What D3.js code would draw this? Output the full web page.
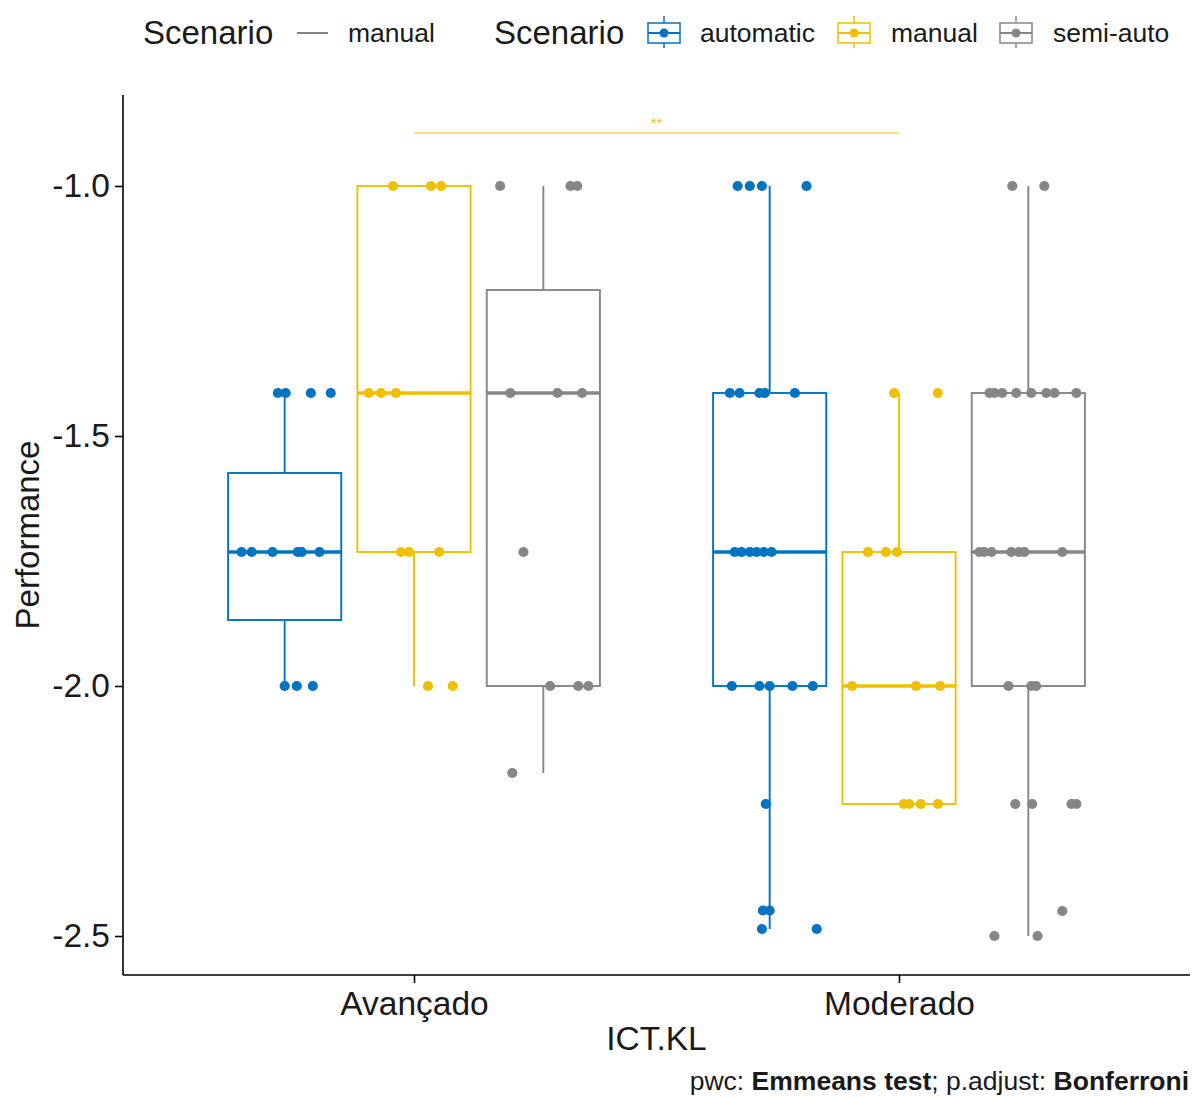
<!DOCTYPE html>
<html>
<head>
<meta charset="utf-8">
<script src="https://cdn.jsdelivr.net/npm/d3@7"></script>
<style>
  html, body { margin: 0; padding: 0; background: #fff; }
  svg { display: block; font-family: "Liberation Sans", Arial, sans-serif; }
</style>
</head>
<body>
<svg id="chart" width="1193" height="1097"></svg>
<script>
// ---- data ----
const categories = ["Avançado", "Moderado"];
const scenarios = ["automatic", "manual", "semi-auto"];
const palette = ["#0073C2", "#EFC000", "#868686"];
const yTicks = [-1.0, -1.5, -2.0, -2.5];

// Box statistics, indexed [category][scenario]
const whiskerLow  = [[-2.000, -2.000, -2.174], [-2.486, -2.236, -2.500]];
const quartile1   = [[-1.868, -1.732, -2.000], [-2.000, -2.236, -2.000]];
const medians     = [[-1.732, -1.414, -1.414], [-1.732, -2.000, -1.732]];
const quartile3   = [[-1.574, -1.000, -1.208], [-1.414, -1.732, -1.414]];
const whiskerHigh = [[-1.414, -1.000, -1.000], [-1.000, -1.414, -1.000]];

// Individual observations: [value, horizontal jitter in x-axis units]
const ptsAvAutomatic = [
  [-1.414, -0.014], [-1.414, 0.002], [-1.414, 0.054], [-1.414, 0.095],
  [-1.732, -0.089], [-1.732, -0.068], [-1.732, -0.025], [-1.732, 0.027], [-1.732, 0.035], [-1.732, 0.072],
  [-2.000, 0.000], [-2.000, 0.025], [-2.000, 0.058]
];
const ptsAvManual = [
  [-1.000, -0.043], [-1.000, 0.035], [-1.000, 0.056],
  [-1.414, -0.093], [-1.414, -0.068], [-1.414, -0.037],
  [-1.732, -0.027], [-1.732, -0.010], [-1.732, 0.052],
  [-2.000, 0.029], [-2.000, 0.080]
];
const ptsAvSemiAuto = [
  [-1.000, -0.089], [-1.000, 0.056], [-1.000, 0.070],
  [-1.414, -0.068], [-1.414, 0.029], [-1.414, 0.080],
  [-1.732, -0.041],
  [-2.000, 0.014], [-2.000, 0.072], [-2.000, 0.093],
  [-2.174, -0.064]
];
const ptsModAutomatic = [
  [-1.000, -0.066], [-1.000, -0.041], [-1.000, -0.016], [-1.000, 0.076],
  [-1.414, -0.082], [-1.414, -0.062], [-1.414, -0.021], [-1.414, -0.010], [-1.414, 0.052],
  [-1.732, -0.072], [-1.732, -0.058], [-1.732, -0.041], [-1.732, -0.027], [-1.732, -0.012], [-1.732, 0.004],
  [-2.000, -0.078], [-2.000, -0.021], [-2.000, 0.000], [-2.000, 0.047], [-2.000, 0.089],
  [-2.236, -0.008],
  [-2.449, -0.014], [-2.449, 0.000],
  [-2.486, -0.016], [-2.486, 0.097]
];
const ptsModManual = [
  [-1.414, -0.010], [-1.414, 0.080],
  [-1.732, -0.064], [-1.732, -0.027], [-1.732, -0.004],
  [-2.000, -0.097], [-2.000, 0.035], [-2.000, 0.085],
  [-2.236, 0.010], [-2.236, 0.021], [-2.236, 0.045], [-2.236, 0.080]
];
const ptsModSemiAuto = [
  [-1.000, -0.033], [-1.000, 0.033],
  [-1.414, -0.080], [-1.414, -0.070], [-1.414, -0.054], [-1.414, -0.025], [-1.414, 0.006], [-1.414, 0.037], [-1.414, 0.054], [-1.414, 0.099],
  [-1.732, -0.101], [-1.732, -0.091], [-1.732, -0.076], [-1.732, -0.035], [-1.732, -0.019], [-1.732, -0.008], [-1.732, 0.070],
  [-2.000, -0.041], [-2.000, 0.006], [-2.000, 0.016],
  [-2.236, -0.027], [-2.236, 0.008], [-2.236, 0.089], [-2.236, 0.099],
  [-2.450, 0.070],
  [-2.500, -0.070], [-2.500, 0.019]
];
const observations = [
  [ptsAvAutomatic, ptsAvManual, ptsAvSemiAuto],
  [ptsModAutomatic, ptsModManual, ptsModSemiAuto]
];

// Pairwise comparison bracket (manual: Avançado vs Moderado)
const bracketY = -0.894;
const bracketLabel = "**";

// ---- layout ----
const svg = d3.select("#chart");
const panel = { left: 123, right: 1190, top: 95, bottom: 975 };
const dodgeWidth = 0.8, boxWidth = 0.7;
const textColor = "#1a1a1a";

// Discrete x positions 1..n with ggplot-style 0.6 expansion
const x = d3.scaleLinear()
  .domain([0.4, categories.length + 0.6])
  .range([panel.left, panel.right]);
const y = d3.scaleLinear()
  .domain([-2.578, -0.818])
  .range([panel.bottom, panel.top]);

const slot = dodgeWidth / scenarios.length;
const halfBox = boxWidth / scenarios.length / 2;
const centerOf = (ci, si) => (ci + 1) + (si - (scenarios.length - 1) / 2) * slot;

// ---- boxes ----
const groups = [];
categories.forEach((c, ci) => scenarios.forEach((s, si) => groups.push({ ci, si })));

const gBoxes = svg.append("g");
groups.forEach(({ ci, si }) => {
  const cx = centerOf(ci, si);
  const col = palette[si];
  const g = gBoxes.append("g");
  // whiskers
  g.append("line")
    .attr("x1", x(cx)).attr("x2", x(cx))
    .attr("y1", y(quartile3[ci][si])).attr("y2", y(whiskerHigh[ci][si]))
    .attr("stroke", col).attr("stroke-width", 1.9);
  g.append("line")
    .attr("x1", x(cx)).attr("x2", x(cx))
    .attr("y1", y(quartile1[ci][si])).attr("y2", y(whiskerLow[ci][si]))
    .attr("stroke", col).attr("stroke-width", 1.9);
  // box
  g.append("rect")
    .attr("x", x(cx - halfBox))
    .attr("width", x(cx + halfBox) - x(cx - halfBox))
    .attr("y", y(quartile3[ci][si]))
    .attr("height", y(quartile1[ci][si]) - y(quartile3[ci][si]))
    .attr("fill", "#fff")
    .attr("stroke", col).attr("stroke-width", 1.9);
  // median
  g.append("line")
    .attr("x1", x(cx - halfBox)).attr("x2", x(cx + halfBox))
    .attr("y1", y(medians[ci][si])).attr("y2", y(medians[ci][si]))
    .attr("stroke", col).attr("stroke-width", 3.6);
});

// ---- jittered points ----
const gPts = svg.append("g");
groups.forEach(({ ci, si }) => {
  const cx = centerOf(ci, si);
  gPts.selectAll(null)
    .data(observations[ci][si])
    .join("circle")
    .attr("cx", d => x(cx + d[1]))
    .attr("cy", d => y(d[0]))
    .attr("r", 5.1)
    .attr("fill", palette[si]);
});

// ---- significance bracket ----
const manualIdx = scenarios.indexOf("manual");
svg.append("line")
  .attr("x1", x(1)).attr("x2", x(2))
  .attr("y1", y(bracketY)).attr("y2", y(bracketY))
  .attr("stroke", palette[manualIdx]).attr("stroke-width", 1.2);
svg.append("text")
  .attr("x", x(1.5)).attr("y", y(bracketY) - 5)
  .attr("text-anchor", "middle")
  .attr("font-size", 15)
  .attr("fill", palette[manualIdx])
  .text(bracketLabel);

// ---- axes ----
const yAxis = svg.append("g")
  .attr("transform", `translate(${panel.left},0)`)
  .call(d3.axisLeft(y).tickValues(yTicks).tickFormat(d => d.toFixed(1)).tickSize(8).tickPadding(5));
yAxis.select(".domain").attr("d", `M0,${panel.top}V${panel.bottom}`);

const xAxis = svg.append("g")
  .attr("transform", `translate(0,${panel.bottom})`)
  .call(d3.axisBottom(x).tickValues(categories.map((c, i) => i + 1))
    .tickFormat((d, i) => categories[i]).tickSize(8).tickPadding(6));
xAxis.select(".domain").attr("d", `M${panel.left},0H${panel.right}`);

[yAxis, xAxis].forEach(ax => {
  ax.select(".domain").attr("stroke", "#000").attr("stroke-width", 1.6);
  ax.selectAll(".tick line").attr("stroke", "#000").attr("stroke-width", 1.6);
  ax.selectAll(".tick text")
    .attr("fill", textColor)
    .attr("font-size", 33.5)
    .attr("font-family", "Liberation Sans, Arial, sans-serif");
});
xAxis.selectAll(".tick text").attr("dy", "0.77em");

// axis titles
svg.append("text")
  .attr("x", x(1.5)).attr("y", 1050)
  .attr("text-anchor", "middle")
  .attr("font-size", 33.5).attr("fill", textColor)
  .text("ICT.KL");
svg.append("text")
  .attr("transform", `translate(39,${(panel.top + panel.bottom) / 2}) rotate(-90)`)
  .attr("text-anchor", "middle")
  .attr("font-size", 33).attr("fill", textColor)
  .text("Performance");

// caption
const caption = svg.append("text")
  .attr("x", 1189).attr("y", 1090)
  .attr("text-anchor", "end")
  .attr("font-size", 26.5).attr("fill", textColor);
caption.append("tspan").text("pwc: ");
caption.append("tspan").attr("font-weight", "bold").text("Emmeans test");
caption.append("tspan").text("; p.adjust: ");
caption.append("tspan").attr("font-weight", "bold").text("Bonferroni");

// ---- legend ----
const legY = 33;
const leg = svg.append("g");
leg.append("text").attr("x", 143).attr("y", legY + 11)
  .attr("font-size", 33).attr("fill", textColor).text("Scenario");
leg.append("line").attr("x1", 297).attr("x2", 328).attr("y1", legY).attr("y2", legY)
  .attr("stroke", "#4d4d4d").attr("stroke-width", 1.4);
leg.append("text").attr("x", 348).attr("y", legY + 9)
  .attr("font-size", 26.5).attr("fill", textColor).text("manual");

leg.append("text").attr("x", 494).attr("y", legY + 11)
  .attr("font-size", 33).attr("fill", textColor).text("Scenario");
const keyX = [648, 838, 1000];
const labelX = [700, 891, 1053];
scenarios.forEach((s, i) => {
  const kx = keyX[i], kw = 32, col = palette[i];
  const cxk = kx + kw / 2;
  leg.append("line").attr("x1", cxk).attr("x2", cxk).attr("y1", legY - 17).attr("y2", legY + 15)
    .attr("stroke", col).attr("stroke-width", 1.5);
  leg.append("rect").attr("x", kx).attr("y", legY - 10).attr("width", kw).attr("height", 20)
    .attr("fill", "#fff").attr("stroke", col).attr("stroke-width", 1.5);
  leg.append("line").attr("x1", kx).attr("x2", kx + kw).attr("y1", legY).attr("y2", legY)
    .attr("stroke", col).attr("stroke-width", 2);
  leg.append("circle").attr("cx", cxk).attr("cy", legY).attr("r", 4.5).attr("fill", col);
  leg.append("text").attr("x", labelX[i]).attr("y", legY + 9)
    .attr("font-size", 26.5).attr("fill", textColor).text(s);
});
</script>
</body>
</html>
